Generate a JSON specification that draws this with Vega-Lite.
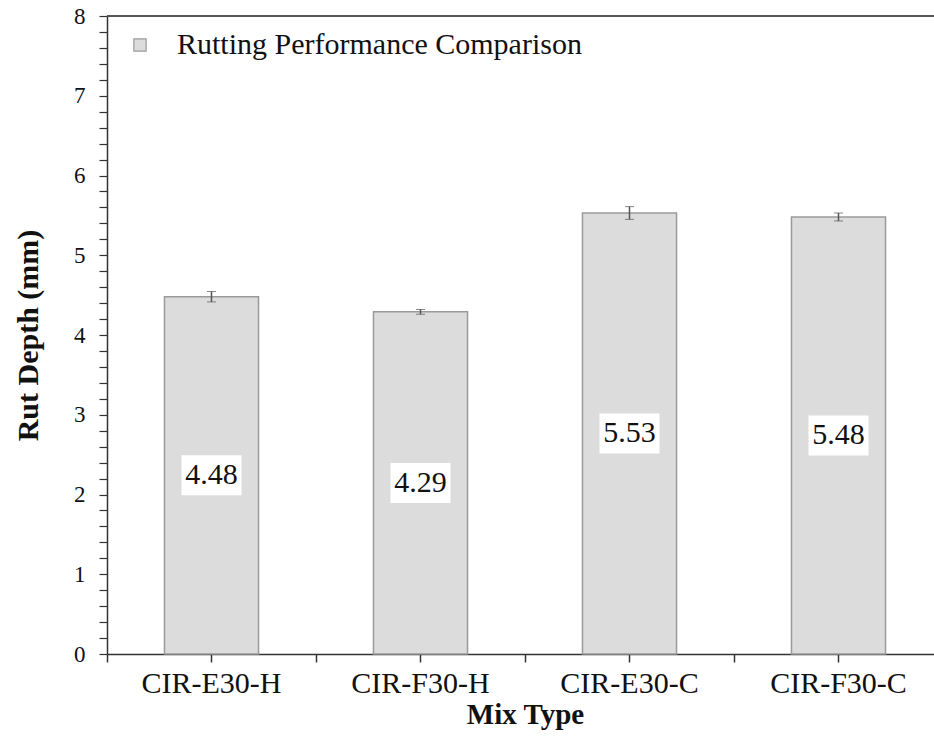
{
  "$schema": "https://vega.github.io/schema/vega-lite/v6.json",
  "autosize": {"type": "none"},
  "padding": {"left": 107, "top": 16, "right": 0, "bottom": 85},
  "width": 827,
  "height": 638,
  "background": "white",
  "config": {
    "font": "Liberation Serif",
    "view": {"stroke": null},
    "axis": {"domainColor": "#333333", "tickColor": "#333333", "labelColor": "#111111", "titleColor": "#111111", "grid": false}
  },
  "data": {
    "values": [
      {"mix": "CIR-E30-H", "rut": 4.48, "err": 0.065, "series": "Rutting Performance Comparison"},
      {"mix": "CIR-F30-H", "rut": 4.29, "err": 0.03, "series": "Rutting Performance Comparison"},
      {"mix": "CIR-E30-C", "rut": 5.53, "err": 0.08, "series": "Rutting Performance Comparison"},
      {"mix": "CIR-F30-C", "rut": 5.48, "err": 0.05, "series": "Rutting Performance Comparison"}
    ]
  },
  "resolve": {"axis": {"x": "independent", "y": "independent"}},
  "layer": [
    {
      "mark": {"type": "bar", "width": {"band": 0.45}, "stroke": "#9a9a9a", "strokeWidth": 1.5},
      "encoding": {
        "x": {
          "field": "mix", "type": "nominal", "sort": null,
          "scale": {"range": [0, 836], "paddingInner": 0, "paddingOuter": 0},
          "axis": {
            "orient": "bottom", "title": "Mix Type", "labelAngle": 0,
            "labelFontSize": 30, "labelPadding": 6, "tickSize": 8, "tickWidth": 1.5,
            "domainWidth": 1.5, "titleFontSize": 29, "titleFontWeight": "bold", "titlePadding": 2
          }
        },
        "y": {
          "field": "rut", "type": "quantitative",
          "scale": {"domain": [0, 8], "nice": false},
          "axis": {
            "orient": "left",
            "title": "Rut Depth (mm)", "titleFontSize": 30, "titleFontWeight": "bold", "titlePadding": 30,
            "labelFontSize": 23, "labelPadding": 14, "tickSize": 8, "tickWidth": 1.2, "domainWidth": 1.5,
            "values": [0, 0.2, 0.4, 0.6, 0.8, 1, 1.2, 1.4, 1.6, 1.8, 2, 2.2, 2.4, 2.6, 2.8, 3, 3.2, 3.4, 3.6, 3.8, 4, 4.2, 4.4, 4.6, 4.8, 5, 5.2, 5.4, 5.6, 5.8, 6, 6.2, 6.4, 6.6, 6.8, 7, 7.2, 7.4, 7.6, 7.8, 8],
            "labelExpr": "abs(datum.value - round(datum.value)) < 0.001 ? format(datum.value, 'd') : ''"
          }
        },
        "color": {
          "field": "series", "type": "nominal",
          "scale": {"range": ["#dcdcdc"]},
          "legend": {
            "title": null, "orient": "none", "legendX": 18, "legendY": 14, "padding": 0,
            "symbolType": "square", "symbolSize": 150, "symbolStrokeColor": "#9a9a9a", "symbolStrokeWidth": 1.2,
            "labelFontSize": 30, "labelFont": "Liberation Serif", "labelColor": "#111111", "labelOffset": 22, "labelLimit": 600
          }
        }
      }
    },
    {
      "mark": {"type": "rule", "color": "#555555", "strokeWidth": 1.5},
      "encoding": {
        "y": {"datum": 8, "type": "quantitative", "axis": null}
      }
    },
    {
      "mark": {"type": "tick", "opacity": 0},
      "encoding": {
        "x": {
          "field": "mix", "type": "nominal", "sort": null,
          "axis": {"orient": "bottom", "title": null, "labels": false, "domain": false, "tickBand": "extent", "tickSize": 8, "tickWidth": 1.5, "tickColor": "#333333"}
        },
        "y": {"field": "rut", "type": "quantitative", "axis": null}
      }
    },
    {
      "mark": {"type": "errorbar", "ticks": {"size": 9, "color": "#555555", "strokeWidth": 1.5}, "rule": {"color": "#555555", "strokeWidth": 1.5}},
      "encoding": {
        "x": {"field": "mix", "type": "nominal", "sort": null, "axis": null},
        "y": {"field": "rut", "type": "quantitative", "axis": null},
        "yError": {"field": "err"}
      }
    },
    {
      "transform": [{"calculate": "datum.rut / 2", "as": "mid"}],
      "layer": [
        {
          "mark": {"type": "point", "shape": "M-1.5,-1H1.5V1H-1.5Z", "filled": true, "color": "white", "opacity": 1, "size": 1600},
          "encoding": {
            "x": {"field": "mix", "type": "nominal", "sort": null, "axis": null},
            "y": {"field": "mid", "type": "quantitative", "axis": null}
          }
        },
        {
          "mark": {"type": "text", "fontSize": 30, "font": "Liberation Serif", "color": "#111111", "baseline": "middle"},
          "encoding": {
            "x": {"field": "mix", "type": "nominal", "sort": null, "axis": null},
            "y": {"field": "mid", "type": "quantitative", "axis": null},
            "text": {"field": "rut", "type": "quantitative", "format": ".2f"}
          }
        }
      ]
    }
  ]
}
